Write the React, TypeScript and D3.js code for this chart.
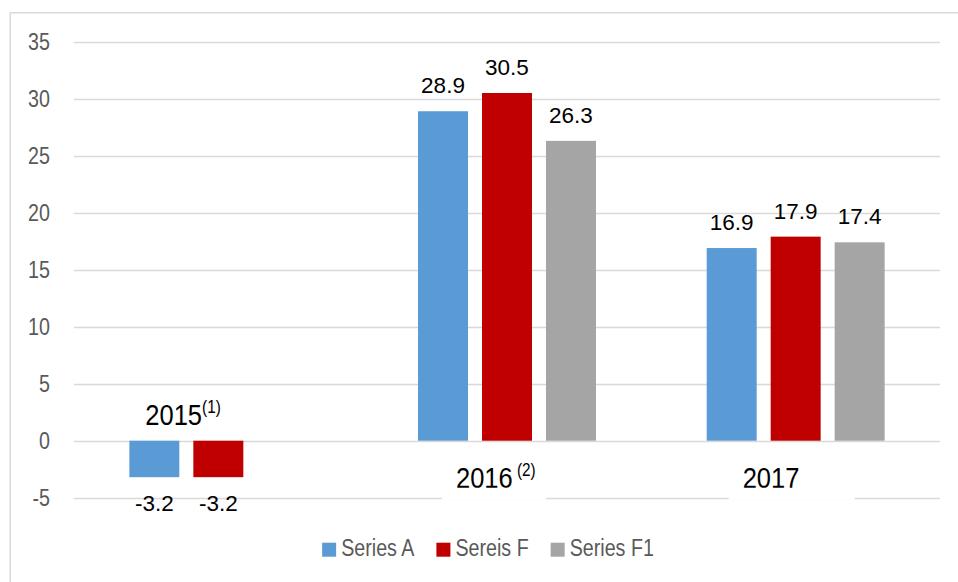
import * as d3 from 'd3';
import React, { useEffect, useRef } from 'react';

const categories = ['2015', '2016', '2017'];
const categoryNotes = ['(1)', ' (2)', ''];
const seriesNames = ['Series A', 'Sereis F', 'Series F1'];
const seriesA = [-3.2, 28.9, 16.9];
const seriesF = [-3.2, 30.5, 17.9];
const seriesF1 = [null, 26.3, 17.4];
const yTicks = [-5, 0, 5, 10, 15, 20, 25, 30, 35];

const colors = ['#5B9BD5', '#C00000', '#A5A5A5'];
const font = "'Liberation Sans', Arial, sans-serif";

const App: React.FC = () => {
  const svgRef = useRef<SVGSVGElement>(null);
  const width = 958;
  const height = 582;

  useEffect(() => {
    if (!svgRef.current) return;
    const svg = d3.select(svgRef.current);
    svg.selectAll('*').remove();

    const values = [seriesA, seriesF, seriesF1];
    const rows = categories.map((c, i) => ({
      cat: c,
      note: categoryNotes[i],
      bars: seriesNames.map((s, j) => ({ series: s, value: values[j][i], color: colors[j] })),
    }));

    // chart frame (left + top edges only visible)
    svg.append('rect')
      .attr('x', 10.25).attr('y', 12.75)
      .attr('width', width + 20).attr('height', height + 20)
      .attr('fill', 'white')
      .attr('stroke', '#D9D9D9')
      .attr('stroke-width', 1.5);

    const x = d3.scaleBand<string>().domain(categories).range([74, 940]);
    const xSub = d3.scaleBand<string>()
      .domain(seriesNames)
      .range([0, x.bandwidth()])
      .paddingInner(0.21875)
      .paddingOuter(0.865);
    const y = d3.scaleLinear().domain([-5, 35]).range([497.7, 41.7]);

    // gridlines
    svg.append('g')
      .selectAll('line')
      .data(yTicks)
      .join('line')
      .attr('x1', 74).attr('x2', 940)
      .attr('y1', d => Math.round(y(d)) + 0.5)
      .attr('y2', d => Math.round(y(d)) + 0.5)
      .attr('stroke', '#D9D9D9')
      .attr('stroke-width', 1.5);

    // y tick labels, squeezed to look like a narrow face
    svg.append('g')
      .selectAll('text')
      .data(yTicks)
      .join('text')
      .attr('transform', d => `translate(50,${y(d)}) scale(0.82,1)`)
      .attr('dy', '0.36em')
      .attr('text-anchor', 'end')
      .style('font-family', font)
      .style('font-size', '24px')
      .attr('fill', '#595959')
      .text(d => d);

    // bars
    const groups = svg.append('g')
      .selectAll('g')
      .data(rows)
      .join('g')
      .attr('transform', d => `translate(${x(d.cat)},0)`);

    groups.selectAll('rect')
      .data(d => d.bars.filter(b => b.value !== null))
      .join('rect')
      .attr('x', d => xSub(d.series)!)
      .attr('width', xSub.bandwidth())
      .attr('y', d => y(Math.max(0, d.value as number)))
      .attr('height', d => Math.abs(y(d.value as number) - y(0)))
      .attr('fill', d => d.color);

    groups.selectAll('text.val')
      .data(d => d.bars.filter(b => b.value !== null))
      .join('text')
      .attr('class', 'val')
      .attr('x', d => xSub(d.series)! + xSub.bandwidth() / 2)
      .attr('y', d => (d.value as number) >= 0 ? y(d.value as number) - 18 : y(d.value as number) + 34)
      .attr('text-anchor', 'middle')
      .style('font-family', font)
      .style('font-size', '22.5px')
      .attr('fill', '#000')
      .text(d => (d.value as number).toFixed(1));

    // category labels (placed like hand-moved text boxes, clipped at baseline)
    const labelShift = [-73, -51, -53];
    const defs = svg.append('defs');
    rows.forEach((r, i) => {
      const cx = x(r.cat)! + x.bandwidth() / 2;
      const neg = seriesA[i] < 0;
      const base = neg ? y(0) - 15.5 : y(0) + 47;
      const left = cx + labelShift[i];
      const boxW = r.note ? 104 : 126;
      const id = `clip-${i}`;
      defs.append('clipPath').attr('id', id)
        .append('rect')
        .attr('x', left - 20).attr('y', base - 40)
        .attr('width', boxW + 40).attr('height', 40);
      if (!neg) {
        svg.append('rect')
          .attr('x', left - 14).attr('y', base - 30)
          .attr('width', boxW).attr('height', 42)
          .attr('fill', 'white');
      }
      const t = svg.append('g')
        .attr('clip-path', `url(#${id})`)
        .append('text')
        .attr('transform', `translate(${left},${base}) scale(0.85,1)`)
        .style('font-family', font)
        .style('font-size', '30px')
        .attr('fill', '#000');
      t.append('tspan').text(r.cat);
      if (r.note) {
        t.append('tspan')
          .attr('dy', -12)
          .style('font-size', '18px')
          .style('white-space', 'pre')
          .text(r.note);
      }
    });

    // legend
    const legend = svg.append('g');
    let cursor = 0;
    seriesNames.forEach((s, i) => {
      const item = legend.append('g').attr('transform', `translate(${cursor},0)`);
      item.append('rect')
        .attr('x', 0).attr('y', 542.7)
        .attr('width', 14).attr('height', 14)
        .attr('fill', colors[i]);
      const label = item.append('text')
        .attr('transform', 'translate(19,556) scale(0.82,1)')
        .style('font-family', font)
        .style('font-size', '24px')
        .attr('fill', '#595959')
        .text(s);
      const w = (label.node() as SVGTextElement).getComputedTextLength() * 0.82;
      cursor += 19 + w + (i < seriesNames.length - 1 ? 22 : 0);
    });
    legend.attr('transform', `translate(${488 - cursor / 2},0)`);
  }, []);

  return (
    <svg
      ref={svgRef}
      width={width}
      height={height}
      style={{ position: 'absolute', left: 0, top: 0, background: 'white' }}
    />
  );
};

export default App;
